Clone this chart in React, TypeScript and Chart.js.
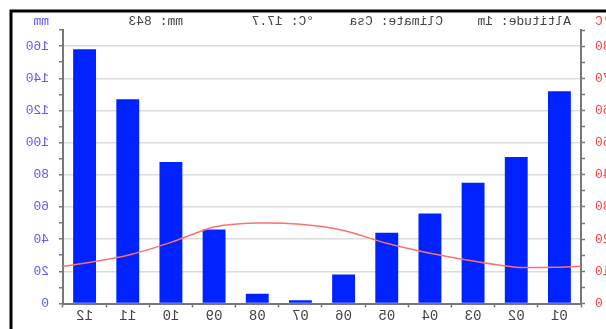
import React, { useEffect, useRef } from "react";
import { Chart, registerables } from "chart.js";

Chart.register(...registerables);

const months = ["01", "02", "03", "04", "05", "06", "07", "08", "09", "10", "11", "12"];
const precipitation = [132, 91, 75, 56, 44, 18, 2, 6, 46, 88, 127, 158];
const temperature = [11.3, 11.3, 13.2, 15.6, 18.7, 22.7, 24.6, 25.0, 23.8, 19.0, 15.0, 12.5];
const yearEdgeTemp = 11.6;
const headerTexts = ["Altitude: 1m", "Climate: Csa", "°C: 17.7", "mm: 843"];
const mmMax = 170;
const tempMax = 85;

const FONT = "'Liberation Mono', 'DejaVu Sans Mono', monospace";

const headerPlugin = {
  id: "header",
  afterDraw(chart: any) {
    const ctx = chart.ctx;
    ctx.save();
    ctx.font = `13px ${FONT}`;
    ctx.textBaseline = "middle";
    ctx.fillStyle = "#444";
    ctx.textAlign = "left";
    const xs = [35, 163, 292, 423];
    headerTexts.forEach((t, i) => ctx.fillText(t, xs[i], 22));
    ctx.fillStyle = "#ff4040";
    ctx.textAlign = "right";
    ctx.fillText("°C", 11, 22);
    ctx.fillStyle = "#5a5aff";
    ctx.textAlign = "left";
    ctx.fillText("mm", 557, 22);
    // frame
    ctx.strokeStyle = "#000";
    ctx.lineWidth = 3;
    ctx.beginPath();
    ctx.moveTo(-5, 11);
    ctx.lineTo(595, 11);
    ctx.lineTo(595, 340);
    ctx.stroke();
    ctx.restore();
  },
};

export default function App() {
  const ref = useRef<HTMLCanvasElement | null>(null);
  useEffect(() => {
    if (!ref.current) return;
    const linePoints = [
      { x: 0, y: yearEdgeTemp },
      ...temperature.map((t, i) => ({ x: i + 0.5, y: t })),
      { x: months.length, y: yearEdgeTemp },
    ];
    const chart = new Chart(ref.current, {
      type: "bar",
      data: {
        labels: months,
        datasets: [
          {
            type: "bar",
            data: precipitation,
            xAxisID: "x",
            yAxisID: "yM",
            backgroundColor: "#0022ff",
            borderWidth: 0,
            barPercentage: 0.53,
            categoryPercentage: 1,
            grouped: false,
            order: 1,
          },
          {
            type: "line",
            data: linePoints as any,
            xAxisID: "xl",
            yAxisID: "yT",
            borderColor: "#ff7070",
            borderWidth: 1.5,
            pointRadius: 0,
            tension: 0.25,
            order: 0,
          } as any,
        ],
      },
      options: {
        animation: false,
        responsive: true,
        maintainAspectRatio: false,
        layout: { padding: { top: 30, left: 0, right: 0, bottom: 0 } },
        plugins: { legend: { display: false }, tooltip: { enabled: false } },
        scales: {
          x: {
            type: "category",
            offset: true,
            grid: {
              offset: true,
              drawOnChartArea: false,
              tickLength: 4,
              tickColor: "#777",
              tickWidth: 1.5,
            },
            border: { color: "#777", width: 2 },
            ticks: {
              color: "#444",
              font: { family: FONT, size: 14 },
              padding: 0,
              maxRotation: 0,
            },
            afterFit: (s: any) => {
              s.height = 25.5;
            },
          },
          xl: {
            type: "linear",
            display: false,
            offset: false,
            grid: { offset: false },
            min: 0,
            max: months.length,
          },
          yT: {
            type: "linear",
            position: "left",
            min: 0,
            max: tempMax,
            grid: {
              drawOnChartArea: false,
              tickLength: 4,
              tickColor: "#777",
              tickWidth: 1.5,
            },
            border: { color: "#777", width: 2 },
            ticks: {
              stepSize: 5,
              autoSkip: false,
              color: "#ff4040",
              font: { family: FONT, size: 13 },
              padding: 10,
              callback: (v: any) => (Number(v) % 10 === 0 && Number(v) <= 80 ? String(v) : ""),
            },
            afterFit: (s: any) => {
              s.width = 25;
            },
          },
          yM: {
            type: "linear",
            position: "right",
            min: 0,
            max: mmMax,
            grid: {
              drawOnChartArea: true,
              color: (c: any) =>
                c.tick && c.tick.value % 20 === 0 && c.tick.value !== 0 ? "#dcdcdc" : "rgba(0,0,0,0)",
              lineWidth: 1.5,
              tickLength: 4,
              tickColor: "#777",
              tickWidth: 1.5,
            },
            border: { color: "#777", width: 2 },
            ticks: {
              stepSize: 10,
              autoSkip: false,
              color: "#5a5aff",
              font: { family: FONT, size: 13 },
              padding: 10,
              callback: (v: any) => (Number(v) % 20 === 0 && Number(v) <= 160 ? String(v) : ""),
            },
            afterFit: (s: any) => {
              s.width = 63;
            },
          },
        },
      },
      plugins: [headerPlugin],
    });
    return () => chart.destroy();
  }, []);
  return (
    <div
      style={{
        position: "fixed",
        left: 0,
        top: 0,
        width: 606,
        height: 329,
        background: "#fff",
        transform: "scaleX(-1)",
      }}
    >
      <canvas ref={ref} style={{ display: "block" }} />
    </div>
  );
}
